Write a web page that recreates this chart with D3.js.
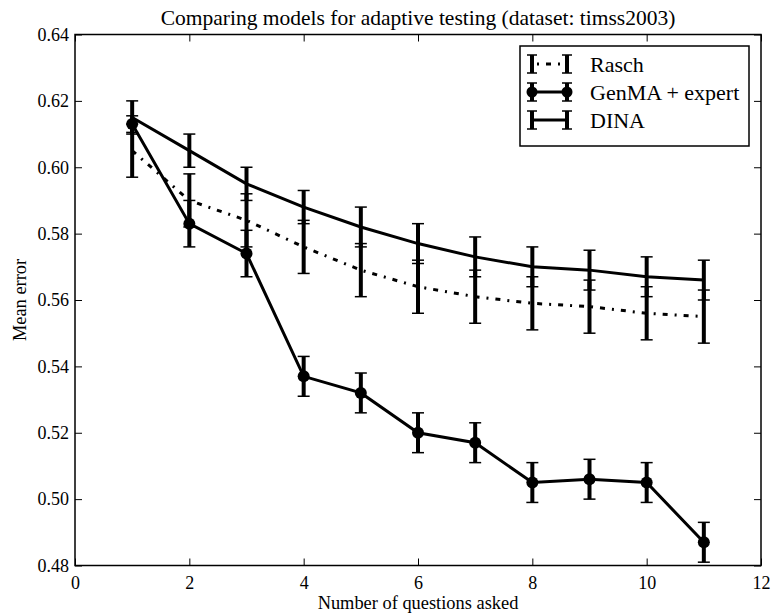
<!DOCTYPE html>
<html>
<head>
<meta charset="utf-8">
<script src="https://cdn.jsdelivr.net/npm/d3@7"></script>
<style>
  body { margin: 0; background: #fff; }
  svg, svg text { font-family: "Liberation Serif", "Times New Roman", "DejaVu Serif", serif; }
</style>
</head>
<body>
<div id="chart"></div>
<script>
// Data
const questions = [1, 2, 3, 4, 5, 6, 7, 8, 9, 10, 11];
const raschMean = [0.605, 0.590, 0.584, 0.576, 0.569, 0.564, 0.561, 0.559, 0.558, 0.556, 0.555];
const raschErr  = [0.008, 0.008, 0.008, 0.008, 0.008, 0.008, 0.008, 0.008, 0.008, 0.008, 0.008];
const genmaMean = [0.613, 0.583, 0.574, 0.537, 0.532, 0.520, 0.517, 0.505, 0.506, 0.505, 0.487];
const genmaErr  = [0.0025, 0.007, 0.007, 0.006, 0.006, 0.006, 0.006, 0.006, 0.006, 0.006, 0.006];
const dinaMean  = [0.615, 0.605, 0.595, 0.588, 0.582, 0.577, 0.573, 0.570, 0.569, 0.567, 0.566];
const dinaErr   = [0.005, 0.005, 0.005, 0.005, 0.006, 0.006, 0.006, 0.006, 0.006, 0.006, 0.006];
const xTicks = [0, 2, 4, 6, 8, 10, 12];
const yTicks = [0.48, 0.50, 0.52, 0.54, 0.56, 0.58, 0.60, 0.62, 0.64];

const W = 771, H = 615;
const margin = { top: 34.5, right: 10, bottom: 49.5, left: 75 };
const width = W - margin.left - margin.right;
const height = H - margin.top - margin.bottom;
const serif = '"Liberation Serif", "Times New Roman", serif';

const svg = d3.select('#chart')
    .append('svg')
    .attr('width', W)
    .attr('height', H);

const g = svg.append('g')
    .attr('transform', `translate(${margin.left},${margin.top})`);

const xScale = d3.scaleLinear().domain([0, 12]).range([0, width]);
const yScale = d3.scaleLinear().domain([0.48, 0.64]).range([height, 0]);

// Series
const series = [
    { name: 'Rasch', mean: raschMean, err: raschErr, dash: '5,7,2,7', marker: false },
    { name: 'GenMA + expert', mean: genmaMean, err: genmaErr, dash: null, marker: true },
    { name: 'DINA', mean: dinaMean, err: dinaErr, dash: null, marker: false }
];

const line = d3.line()
    .x(d => xScale(d.x))
    .y(d => yScale(d.y));

series.forEach(s => {
    const pts = questions.map((q, i) => ({ x: q, y: s.mean[i], e: s.err[i] }));
    const sg = g.append('g');

    sg.append('path')
        .datum(pts)
        .attr('d', line)
        .attr('fill', 'none')
        .attr('stroke', '#000')
        .attr('stroke-width', 3)
        .attr('stroke-dasharray', s.dash);

    // error bars
    sg.selectAll('.bar')
        .data(pts)
        .enter()
        .append('line')
        .attr('x1', d => xScale(d.x))
        .attr('x2', d => xScale(d.x))
        .attr('y1', d => yScale(d.y - d.e))
        .attr('y2', d => yScale(d.y + d.e))
        .attr('stroke', '#000')
        .attr('stroke-width', 4);

    ['lo', 'hi'].forEach(k => {
        sg.selectAll('.cap-' + k)
            .data(pts)
            .enter()
            .append('line')
            .attr('x1', d => xScale(d.x) - 6)
            .attr('x2', d => xScale(d.x) + 6)
            .attr('y1', d => yScale(k === 'lo' ? d.y - d.e : d.y + d.e))
            .attr('y2', d => yScale(k === 'lo' ? d.y - d.e : d.y + d.e))
            .attr('stroke', '#000')
            .attr('stroke-width', 1.5);
    });

    if (s.marker) {
        sg.selectAll('.dot')
            .data(pts)
            .enter()
            .append('circle')
            .attr('cx', d => xScale(d.x))
            .attr('cy', d => yScale(d.y))
            .attr('r', 6)
            .attr('fill', '#000');
    }
});

// Axes (ticks inward on all four sides)
const tickFont = '18px';
g.append('g')
    .attr('transform', `translate(0,${height})`)
    .call(d3.axisBottom(xScale).tickValues(xTicks).tickSize(-7).tickPadding(11).tickFormat(d3.format('d')))
    .call(a => a.select('.domain').remove())
    .call(a => a.attr('font-family', serif))
    .selectAll('text').style('font-size', tickFont);

g.append('g')
    .call(d3.axisTop(xScale).tickValues(xTicks).tickSize(-7).tickFormat(''))
    .call(a => a.select('.domain').remove());

g.append('g')
    .call(d3.axisLeft(yScale).tickValues(yTicks).tickSize(-7).tickPadding(6).tickFormat(d3.format('.2f')))
    .call(a => a.select('.domain').remove())
    .call(a => a.attr('font-family', serif))
    .selectAll('text').style('font-size', tickFont);

g.append('g')
    .attr('transform', `translate(${width},0)`)
    .call(d3.axisRight(yScale).tickValues(yTicks).tickSize(-7).tickFormat(''))
    .call(a => a.select('.domain').remove());

g.selectAll('.tick line').attr('stroke', '#000').attr('stroke-width', 1);

// Frame
g.append('rect')
    .attr('width', width)
    .attr('height', height)
    .attr('fill', 'none')
    .attr('stroke', '#000')
    .attr('stroke-width', 1.5);

// Title and axis labels
svg.append('text')
    .attr('x', margin.left + width / 2)
    .attr('y', 25)
    .attr('text-anchor', 'middle')
    .style('font-size', '21.5px')
    .text('Comparing models for adaptive testing (dataset: timss2003)');

svg.append('text')
    .attr('x', margin.left + width / 2)
    .attr('y', 609)
    .attr('text-anchor', 'middle')
    .style('font-size', '18.4px')
    .text('Number of questions asked');

svg.append('text')
    .attr('transform', `translate(26,${margin.top + height / 2}) rotate(-90)`)
    .attr('text-anchor', 'middle')
    .style('font-size', '18.4px')
    .text('Mean error');

// Legend
const legend = svg.append('g').attr('transform', 'translate(520,46)');
legend.append('rect')
    .attr('width', 229)
    .attr('height', 100)
    .attr('fill', '#fff')
    .attr('stroke', '#000')
    .attr('stroke-width', 1.5);

series.forEach((s, i) => {
    const y = 18 + i * 28;
    const lg = legend.append('g').attr('transform', `translate(0,${y})`);
    lg.append('line')
        .attr('x1', 12).attr('x2', 47).attr('y1', 0).attr('y2', 0)
        .attr('stroke', '#000').attr('stroke-width', 3)
        .attr('stroke-dasharray', s.dash ? '2,7,5,7' : null)
        .attr('stroke-dashoffset', s.dash ? -5 : null);
    [12, 47].forEach(x => {
        lg.append('line').attr('x1', x).attr('x2', x).attr('y1', -9).attr('y2', 9)
            .attr('stroke', '#000').attr('stroke-width', 4);
        lg.append('line').attr('x1', x - 5).attr('x2', x + 5).attr('y1', -9).attr('y2', -9)
            .attr('stroke', '#000').attr('stroke-width', 1.5);
        lg.append('line').attr('x1', x - 5).attr('x2', x + 5).attr('y1', 9).attr('y2', 9)
            .attr('stroke', '#000').attr('stroke-width', 1.5);
        if (s.marker) {
            lg.append('circle').attr('cx', x).attr('cy', 0).attr('r', 5.5).attr('fill', '#000');
        }
    });
    lg.append('text')
        .attr('x', 70)
        .attr('y', 7.5)
        .style('font-size', '22px')
        .text(s.name);
});
</script>
</body>
</html>
